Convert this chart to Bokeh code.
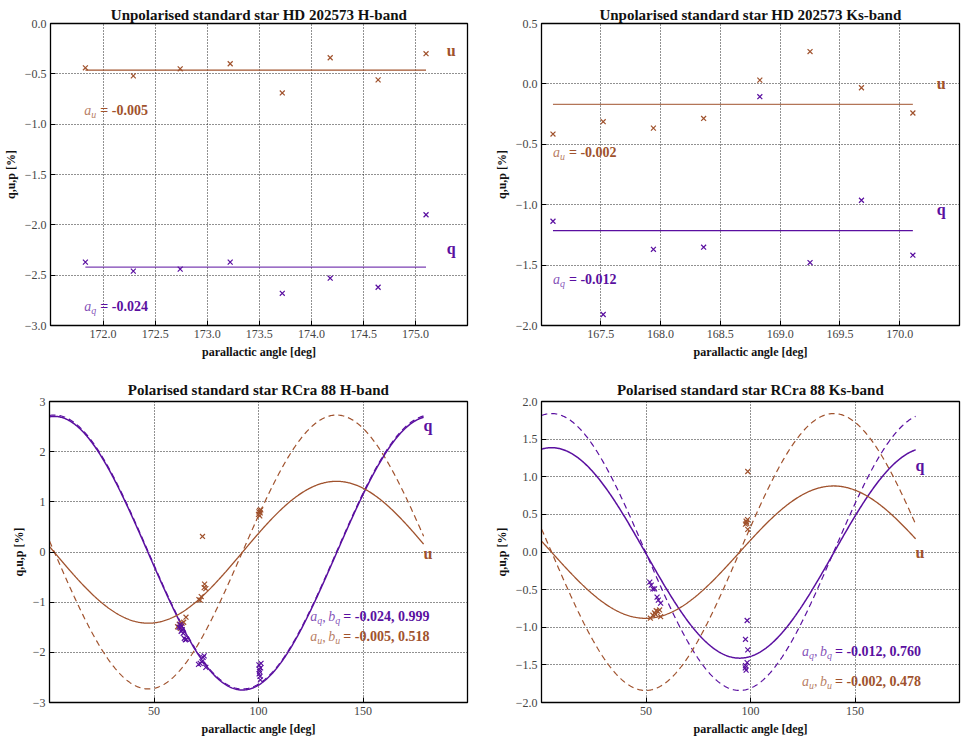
import numpy as np
from bokeh.plotting import figure
from bokeh.layouts import column, row
from bokeh.models import FixedTicker, Range1d
from bokeh.embed import file_html
from bokeh.resources import INLINE
from bokeh.core.properties import value

PURPLE = "#5a0fa0"
BROWN = "#a0522d"
FONT = "Liberation Serif"

# ---------------- data: unpolarised star, H band ----------------
hd_h_angle = [171.83, 172.29, 172.74, 173.22, 173.72, 174.18, 174.64, 175.10]
hd_h_u = [-0.44, -0.52, -0.45, -0.40, -0.69, -0.34, -0.56, -0.30]
hd_h_q = [-2.37, -2.46, -2.44, -2.37, -2.68, -2.53, -2.62, -1.90]
hd_h_u_level = -0.463
hd_h_q_level = -2.420
hd_h_a_u = "-0.005"
hd_h_a_q = "-0.024"

# ---------------- data: unpolarised star, Ks band ----------------
hd_k_angle = [167.10, 167.52, 167.94, 168.36, 168.83, 169.25, 169.68, 170.11]
hd_k_u = [-0.415, -0.313, -0.366, -0.286, 0.031, 0.268, -0.032, -0.241]
hd_k_q = [-1.137, -1.909, -1.369, -1.352, -0.106, -1.479, -0.963, -1.418]
hd_k_u_level = -0.170
hd_k_q_level = -1.215
hd_k_a_u = "-0.002"
hd_k_a_q = "-0.012"

# ---------------- data: polarised star RCra 88, H band ----------------
rc_h_u_angle = [61.3, 62.1, 62.6, 63.4, 64.2, 65.3, 71.5, 72.1, 72.6, 74.0, 74.2, 74.8,
                73.2, 100.0, 100.2, 100.5, 100.6, 100.8, 101.1]
rc_h_u = [-1.49, -1.44, -1.52, -1.42, -1.40, -1.30, -0.95, -0.96, -0.89, -0.71, -0.64, -0.73,
          0.31, 0.75, 0.80, 0.83, 0.72, 0.78, 0.84]
rc_h_q_angle = [62.0, 62.5, 63.0, 63.2, 63.5, 64.0, 64.5, 65.0, 65.5, 71.3, 72.1, 72.9, 73.5,
                74.0, 74.8, 100.2, 100.4, 100.5, 100.7, 100.9, 101.0, 101.2, 100.3]
rc_h_q = [-1.50, -1.45, -1.58, -1.48, -1.55, -1.62, -1.72, -1.75, -1.74, -2.24, -2.22, -2.19, -2.10,
          -2.07, -2.30, -2.25, -2.34, -2.38, -2.48, -2.55, -2.31, -2.22, -2.43]
# model parameters: polarisation degree, angle offset, a/b fit values
rc_h_P = 2.73
rc_h_theta0 = 2.3
rc_h_aq, rc_h_bq = -0.024, 0.999
rc_h_au, rc_h_bu = -0.005, 0.518

# ---------------- data: polarised star RCra 88, Ks band ----------------
rc_k_u_angle = [52.1, 53.3, 54.1, 54.6, 54.9, 55.7, 56.5, 57.0, 98.7, 97.9, 98.2, 98.6, 97.6, 98.7, 98.1]
rc_k_u = [-0.88, -0.84, -0.81, -0.83, -0.78, -0.79, -0.77, -0.86, 1.07, 0.41, 0.38, 0.43, 0.37, 0.30, 0.40]
rc_k_q_angle = [51.8, 52.5, 53.3, 54.1, 55.3, 55.9, 57.0, 98.4, 97.6, 98.7, 98.4, 97.6, 97.9, 97.5]
rc_k_q = [-0.40, -0.44, -0.49, -0.49, -0.60, -0.64, -0.68, -0.91, -1.16, -1.30, -1.47, -1.51, -1.57, -1.54]
rc_k_P = 1.84
rc_k_theta0 = 4.8
rc_k_aq, rc_k_bq = -0.012, 0.760
rc_k_au, rc_k_bu = -0.002, 0.478

# tick values
t1_x = [172.0, 172.5, 173.0, 173.5, 174.0, 174.5, 175.0]
t1_y = [0.0, -0.5, -1.0, -1.5, -2.0, -2.5, -3.0]
t2_x = [167.5, 168.0, 168.5, 169.0, 169.5, 170.0]
t2_y = [0.5, 0.0, -0.5, -1.0, -1.5, -2.0]
t3_x = [50, 100, 150]
t3_y = [3, 2, 1, 0, -1, -2, -3]
t4_x = [50, 100, 150]
t4_y = [2.0, 1.5, 1.0, 0.5, 0.0, -0.5, -1.0, -1.5, -2.0]


def fmt(v, dec):
    s = f"{abs(v):.{dec}f}"
    return ("\u2212" + s) if v < 0 else s


def make_fig(title, xr, yr, xt, yt, xdec, ydec, w, h, bl, br, bt, bb, standoff):
    p = figure(width=w, height=h, x_range=Range1d(*xr), y_range=Range1d(*yr),
               output_backend="svg", toolbar_location=None, title=title,
               min_border_left=bl, min_border_right=br, min_border_top=bt, min_border_bottom=bb)
    p.title.text_font = FONT
    p.title.text_font_size = "15px"
    p.title.text_font_style = "bold"
    p.title.align = "center"
    p.title.text_color = "#111111"
    p.title.standoff = standoff
    p.outline_line_color = "black"
    p.outline_line_width = 1.3
    p.background_fill_color = "white"
    p.border_fill_color = "white"
    p.xaxis.ticker = FixedTicker(ticks=xt)
    p.yaxis.ticker = FixedTicker(ticks=yt)
    p.xaxis.major_label_overrides = {v: fmt(v, xdec) for v in xt}
    p.yaxis.major_label_overrides = {v: fmt(v, ydec) for v in yt}
    p.xaxis.axis_label = "parallactic angle [deg]"
    p.yaxis.axis_label = "q,u,p [%]"
    for ax in (p.xaxis, p.yaxis):
        ax.axis_label_text_font = FONT
        ax.axis_label_text_font_size = "12px"
        ax.axis_label_text_font_style = "bold"
        ax.axis_label_text_color = "#111111"
        ax.axis_label_standoff = 4
        ax.major_label_text_font = FONT
        ax.major_label_text_font_size = "12px"
        ax.major_label_text_color = "#444444"
        ax.major_label_standoff = 4
        ax.major_tick_in = 5
        ax.major_tick_out = 0
        ax.minor_tick_in = 2
        ax.minor_tick_out = 0
        ax.axis_line_color = "black"
        ax.major_tick_line_color = "black"
        ax.minor_tick_line_color = "#555555"
    p.xgrid.ticker = FixedTicker(ticks=xt)
    p.ygrid.ticker = FixedTicker(ticks=yt)
    p.grid.grid_line_color = "#222222"
    p.grid.grid_line_dash = "1 2"
    p.grid.grid_line_width = 1
    return p


def txt(p, x, y, s, color, size="14px", style="normal", dx=0, dy=0, alpha=1.0):
    p.text(x=[x], y=[y], text=[s], x_offset=dx, y_offset=dy, text_font=value(FONT),
           text_font_size=size, text_font_style=style, text_color=color,
           text_alpha=alpha, text_baseline="middle", text_align="left")


def param_label(p, x, y, sub, rest, color):
    txt(p, x, y, "a", color, "14px", "italic", 0, 0, 0.75)
    txt(p, x, y, sub, color, "10px", "italic", 7, 4, 0.75)
    txt(p, x, y, rest, color, "14px", "bold", 16, 0)


def param_label2(p, x, y, sub, rest, color):
    txt(p, x, y, "a", color, "14px", "italic", 0, 0, 0.75)
    txt(p, x, y, sub, color, "10px", "italic", 7, 4, 0.75)
    txt(p, x, y, ",", color, "14px", "normal", 12, 0, 0.75)
    txt(p, x, y, "b", color, "14px", "italic", 18, 0, 0.75)
    txt(p, x, y, sub, color, "10px", "italic", 25, 4, 0.75)
    txt(p, x, y, rest, color, "14px", "bold", 33, 0)


MS = 7

# ---- panel 1 ----
p1 = make_fig("Unpolarised standard star HD 202573 H-band", (171.495, 175.498), (-3.0, 0.0),
              t1_x, t1_y, 1, 1, 481, 369, 49, 14, 23, 44, 1)
p1.line([hd_h_angle[0], hd_h_angle[-1]], [hd_h_u_level, hd_h_u_level], color=BROWN, line_width=1.3)
p1.line([hd_h_angle[0], hd_h_angle[-1]], [hd_h_q_level, hd_h_q_level], color=PURPLE, line_width=1.3, alpha=0.8)
p1.scatter(hd_h_angle, hd_h_u, marker="x", size=MS, line_color=BROWN, line_width=1.2)
p1.scatter(hd_h_angle, hd_h_q, marker="x", size=MS, line_color=PURPLE, line_width=1.2)
txt(p1, 175.30, -0.27, "u", BROWN, "16px", "bold")
txt(p1, 175.30, -2.24, "q", PURPLE, "16px", "bold")
param_label(p1, 171.82, -0.86, "u", "= " + hd_h_a_u, BROWN)
param_label(p1, 171.82, -2.81, "q", "= " + hd_h_a_q, PURPLE)

# ---- panel 2 ----
p2 = make_fig("Unpolarised standard star HD 202573 Ks-band", (167.004, 170.5), (-2.0, 0.5),
              t2_x, t2_y, 1, 1, 481, 369, 60, 3, 23, 44, 1)
p2.line([hd_k_angle[0], hd_k_angle[-1]], [hd_k_u_level, hd_k_u_level], color=BROWN, line_width=1.3, alpha=0.8)
p2.line([hd_k_angle[0], hd_k_angle[-1]], [hd_k_q_level, hd_k_q_level], color=PURPLE, line_width=1.3)
p2.scatter(hd_k_angle, hd_k_u, marker="x", size=MS, line_color=BROWN, line_width=1.2)
p2.scatter(hd_k_angle, hd_k_q, marker="x", size=MS, line_color=PURPLE, line_width=1.2)
txt(p2, 170.31, 0.0, "u", BROWN, "16px", "bold")
txt(p2, 170.31, -1.04, "q", PURPLE, "16px", "bold")
param_label(p2, 167.10, -0.57, "u", "= " + hd_k_a_u, BROWN)
param_label(p2, 167.10, -1.62, "q", "= " + hd_k_a_q, PURPLE)


def model_panel(p, P, th0, aq, bq, au, bu):
    th = np.linspace(0.0, 179.0, 500)
    arg = np.radians(2.0 * (th - th0))
    p.line(th, P * np.cos(arg), color=PURPLE, line_width=1.2, line_dash="6 4")
    p.line(th, -P * np.sin(arg), color=BROWN, line_width=1.2, line_dash="6 4")
    p.line(th, aq + bq * P * np.cos(arg), color=PURPLE, line_width=1.5)
    p.line(th, au - bu * P * np.sin(arg), color=BROWN, line_width=1.3)


# ---- panel 3 ----
p3 = make_fig("Polarised standard star RCra 88 H-band", (0.0, 200.0), (-3.0, 3.0),
              t3_x, t3_y, 0, 0, 481, 369, 49, 14, 32, 35, 8)
model_panel(p3, rc_h_P, rc_h_theta0, rc_h_aq, rc_h_bq, rc_h_au, rc_h_bu)
p3.scatter(rc_h_u_angle, rc_h_u, marker="x", size=MS, line_color=BROWN, line_width=1.2)
p3.scatter(rc_h_q_angle, rc_h_q, marker="x", size=MS, line_color=PURPLE, line_width=1.2)
txt(p3, 179.0, 2.52, "q", PURPLE, "16px", "bold")
txt(p3, 179.0, -0.02, "u", BROWN, "16px", "bold")
param_label2(p3, 124.8, -1.29, "q", f"= {rc_h_aq:.3f}, {rc_h_bq:.3f}", PURPLE)
param_label2(p3, 124.8, -1.69, "u", f"= {rc_h_au:.3f}, {rc_h_bu:.3f}", BROWN)

# ---- panel 4 ----
p4 = make_fig("Polarised standard star RCra 88 Ks-band", (0.0, 200.0), (-2.0, 2.0),
              t4_x, t4_y, 0, 1, 481, 369, 60, 3, 32, 35, 8)
model_panel(p4, rc_k_P, rc_k_theta0, rc_k_aq, rc_k_bq, rc_k_au, rc_k_bu)
p4.scatter(rc_k_u_angle, rc_k_u, marker="x", size=MS, line_color=BROWN, line_width=1.2)
p4.scatter(rc_k_q_angle, rc_k_q, marker="x", size=MS, line_color=PURPLE, line_width=1.2)
txt(p4, 178.9, 1.15, "q", PURPLE, "16px", "bold")
txt(p4, 178.9, -0.01, "u", BROWN, "16px", "bold")
param_label2(p4, 124.6, -1.32, "q", f"= {rc_k_aq:.3f}, {rc_k_bq:.3f}", PURPLE)
param_label2(p4, 124.6, -1.72, "u", f"= {rc_k_au:.3f}, {rc_k_bu:.3f}", BROWN)

layout = column(row(p1, p2), row(p3, p4))
open("out.html", "w").write(file_html(layout, INLINE))
